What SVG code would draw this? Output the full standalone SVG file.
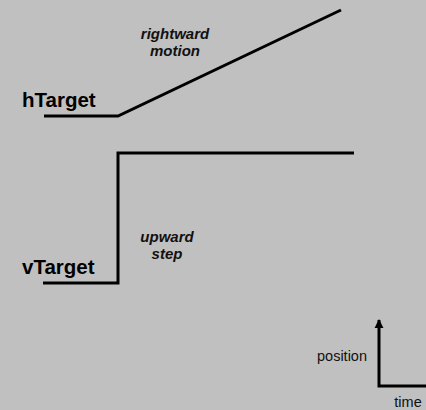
<svg xmlns="http://www.w3.org/2000/svg" width="426" height="410" viewBox="0 0 426 410">
<style>
.lbl{font-family:"Liberation Sans",Arial,sans-serif;font-weight:bold;font-size:20.5px;fill:#000}
.note{font-family:"Liberation Sans",Arial,sans-serif;font-weight:bold;font-style:italic;font-size:15px;fill:#111;text-anchor:middle}
.ax{font-family:"Liberation Sans",Arial,sans-serif;font-size:14.5px;fill:#111}
.trace{fill:none;stroke:#000;stroke-width:3}
</style>
<defs>
<marker id="ah" viewBox="0 0 10 10" refX="9" refY="5" markerWidth="3" markerHeight="3.5" orient="auto" markerUnits="strokeWidth">
<path d="M0,0 L10,5 L0,10 z" fill="#000"/>
</marker>
</defs>
<rect width="426" height="410" fill="#c0c0c0"/>
<g id="hTarget">
<text class="lbl" x="22" y="107">hTarget</text>
<text class="note" x="175" y="39">rightward</text>
<text class="note" x="175" y="56">motion</text>
</g>
<g id="vTarget">
<text class="lbl" x="22" y="274">vTarget</text>
<text class="note" x="167" y="242">upward</text>
<text class="note" x="167" y="259">step</text>
</g>
<g id="axes">
<text class="ax" x="367" y="361" text-anchor="end">position</text>
<text class="ax" x="408" y="407" text-anchor="middle">time</text>
</g>
<g id="connectors">
<polyline class="trace" points="44,116 118,116 341,10"/>
<polyline class="trace" points="43,283 118,283 118,153 354,153"/>
<polyline class="trace" points="426,386 379,386 379,320" marker-end="url(#ah)"/>
</g>
</svg>
